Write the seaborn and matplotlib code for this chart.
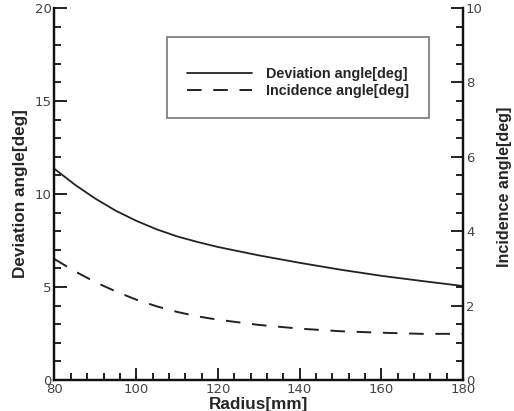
import numpy as np
import pandas as pd
import seaborn as sns
import matplotlib.pyplot as plt
from matplotlib.ticker import MultipleLocator
from matplotlib.lines import Line2D

# %%-----------------------------------------------------------------------
# data

radius = [80, 85, 90, 95, 100, 105, 110, 115, 120, 130, 140, 150, 160, 170, 180]
deviation = [11.35, 10.5, 9.75, 9.1, 8.56, 8.1, 7.72, 7.42, 7.15, 6.7, 6.3, 5.93, 5.6, 5.32, 5.05]
incidence = [3.25, 2.92, 2.63, 2.38, 2.16, 1.98, 1.83, 1.71, 1.62, 1.48, 1.38, 1.31, 1.27, 1.24, 1.24]

df = pd.DataFrame({'radius': radius, 'deviation': deviation, 'incidence': incidence})

# %%-----------------------------------------------------------------------
# plot

sns.set_style('ticks')
plt.rcParams['font.family'] = ['DejaVu Sans']

fig = plt.figure(figsize=(5.14, 4.11), dpi=100)
ax = fig.add_axes([0.106, 0.0755, 0.795, 0.905])
ax2 = ax.twinx()

line_col = '#222222'
dash = (0, (7.5, 6))
sns.lineplot(data=df, x='radius', y='deviation', ax=ax, color=line_col, lw=1.3)
sns.lineplot(data=df, x='radius', y='incidence', ax=ax2, color=line_col, lw=1.4,
             linestyle=dash)

ax.set_xlim(80, 180)
ax.set_ylim(0, 20)
ax2.set_ylim(0, 10)

ax.xaxis.set_major_locator(MultipleLocator(20))
ax.xaxis.set_minor_locator(MultipleLocator(4))
ax.yaxis.set_major_locator(MultipleLocator(5))
ax.yaxis.set_minor_locator(MultipleLocator(1))
ax2.yaxis.set_major_locator(MultipleLocator(2))
ax2.yaxis.set_minor_locator(MultipleLocator(0.5))

for a in (ax, ax2):
    a.spines['top'].set_visible(False)
    for s in a.spines.values():
        s.set_linewidth(1.6)
        s.set_color('#111111')
    a.tick_params(which='both', direction='in', color='#111111', width=1.3,
                  labelsize=9.5, labelcolor='#444444', pad=2)
    a.tick_params(which='major', length=9)
    a.tick_params(which='minor', length=5)
ax.tick_params(axis='y', right=False)
ax2.tick_params(axis='y', left=False, labelleft=False)

lab_font = dict(family='Liberation Sans', weight='bold', size=12.3)
ax.set_xlabel('Radius[mm]', fontdict=lab_font, labelpad=1)
ax.set_ylabel('Deviation angle[deg]', fontdict=lab_font, labelpad=5)
ax2.set_ylabel('Incidence angle[deg]', fontdict=dict(lab_font, size=11.6),
               labelpad=10, rotation=90)
ax2.yaxis.label.set_y(0.52)

handles = [Line2D([], [], color=line_col, lw=1.3),
           Line2D([], [], color=line_col, lw=1.4, linestyle=dash)]
leg = ax.legend(handles, ['Deviation angle[deg]', 'Incidence angle[deg]'],
                loc='upper left', bbox_to_anchor=(0.275, 0.922),
                prop=dict(family='Liberation Sans', weight='bold', size=10.4),
                title=' ', title_fontproperties=dict(size=5),
                frameon=True, fancybox=False, handlelength=4.5, handletextpad=1.0,
                borderpad=1.38, labelspacing=0.25, borderaxespad=0)
leg.get_frame().set_edgecolor('#555555')
leg.get_frame().set_linewidth(1.2)

plt.savefig('out.png', dpi=100)
